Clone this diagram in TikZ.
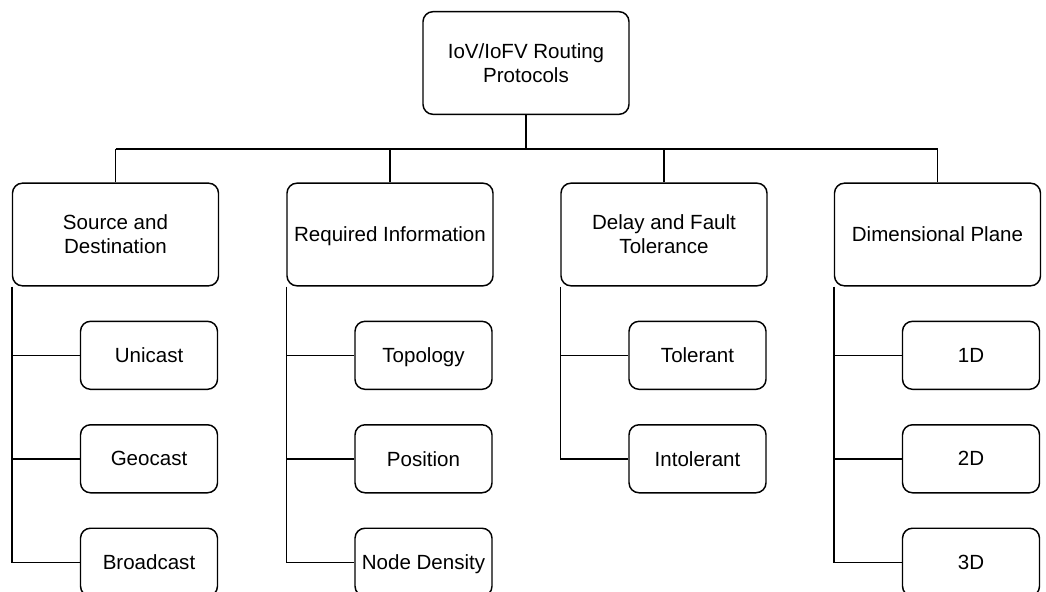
\documentclass[tikz,border=0pt]{standalone}
\usepackage{fontspec}
\setmainfont{Liberation Sans}
\usetikzlibrary{positioning}

\begin{document}
\begin{tikzpicture}
  [x=0.75pt, y=-0.75pt, line width=1.1pt,
   box/.style={draw, rounded corners=7.5pt, align=center, inner sep=2pt,
     text depth=0pt, font=\fontsize{15.4}{18}\selectfont},
   topbox/.style={box, minimum width=154.5pt, minimum height=77pt},
   leafbox/.style={box, minimum width=102.75pt, minimum height=51pt}]
  \useasboundingbox (0,0) rectangle (1046,592);
  \node[topbox] (root) at (526,63) {IoV/IoFV Routing\\Protocols};
  \node[topbox] (src) at (115.5,234.5) {Source and\\Destination};
  \node[topbox] (req) at (390,234.5) {Required Information};
  \node[topbox] (dft) at (664,234.5) {Delay and Fault\\Tolerance};
  \node[topbox] (dim) at (937.5,234.5) {Dimensional Plane};
  \coordinate (bus) at (526,149);
  % bus to the four groups
  \draw (root) -- (bus);
  \draw (src.north |- bus) -- (dim.north |- bus);
  \foreach \p in {src,req,dft,dim}
    \draw (\p.north) -- (\p.north |- bus);
  % leaves
  \foreach \p/\names in {src/{Unicast,Geocast,Broadcast},
                         req/{Topology,Position,Node Density},
                         dft/{Tolerant,Intolerant},
                         dim/{1D,2D,3D}}
  {
    \foreach \n [count=\i, remember=\i as \j (initially 0)] in \names {
      \ifnum\i=1
        \node[leafbox, below=25.5pt of \p.south west, anchor=north west, xshift=51pt] (\p\i) {\n};
        \coordinate (prev) at (\p.south west);
      \else
        \node[leafbox, below=25.5pt of \p\j] (\p\i) {\n};
        \coordinate (prev) at (\p.south west |- \p\j);
      \fi
      \draw (prev) |- (\p\i);
    }
  }
\end{tikzpicture}
\end{document}
